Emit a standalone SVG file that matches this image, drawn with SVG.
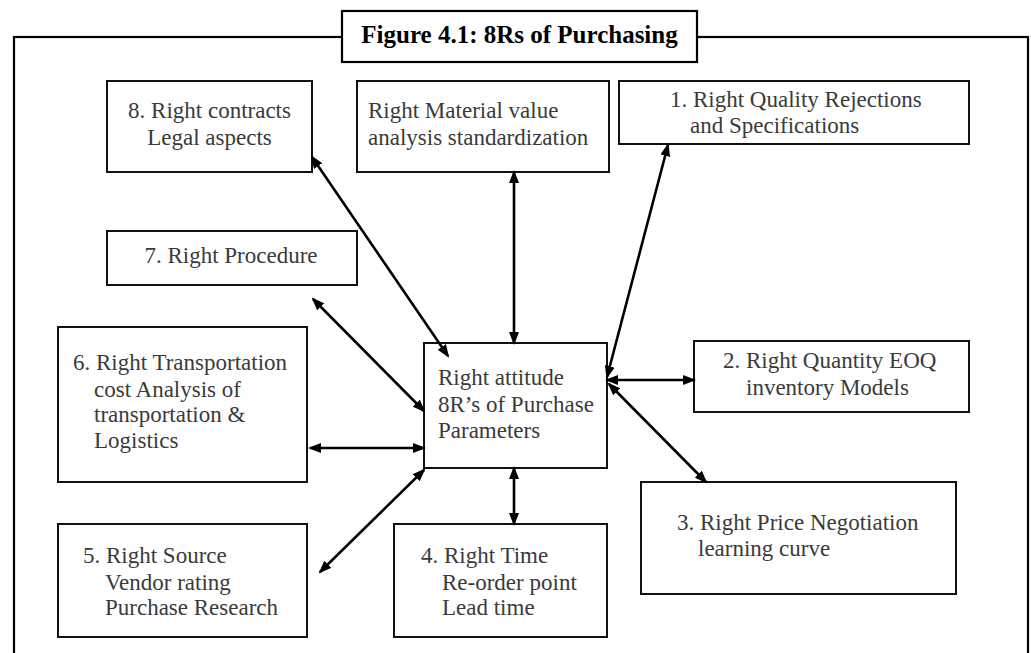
<svg xmlns="http://www.w3.org/2000/svg" width="1031" height="653" viewBox="0 0 1031 653">
<style>
.box{fill:#fff;stroke:#111;stroke-width:2}
.t{font-family:"Liberation Serif","Times New Roman",serif;font-size:23px;fill:#3a3a3a}
.ttl{font-family:"Liberation Serif","Times New Roman",serif;font-size:25px;font-weight:bold;fill:#000}
.c{stroke:#000;stroke-width:2.6;fill:none;marker-start:url(#ah);marker-end:url(#ah)}
</style>
<defs>
<marker id="ah" viewBox="0 0 13 10" refX="11" refY="5" markerWidth="13" markerHeight="10" markerUnits="userSpaceOnUse" orient="auto-start-reverse">
<path d="M0,0 L13,5 L0,10 z" fill="#000"/>
</marker>
</defs>
<rect id="frame" x="14" y="37" width="1014" height="640" fill="none" stroke="#000" stroke-width="2.2"/>
<g id="title">
<rect x="342" y="11" width="355" height="51" fill="#fff" stroke="#000" stroke-width="2.2"/>
<text class="ttl" x="519.5" y="43" text-anchor="middle">Figure 4.1: 8Rs of Purchasing</text>
</g>
<g id="n8">
<rect class="box" x="107" y="81" width="205" height="91"/>
<text class="t" x="209.5" y="118" text-anchor="middle">8. Right contracts</text>
<text class="t" x="209.5" y="145" text-anchor="middle">Legal aspects</text>
</g>
<g id="nMaterial">
<rect class="box" x="357" y="81" width="252" height="91"/>
<text class="t" x="368" y="118">Right Material value</text>
<text class="t" x="368" y="145">analysis standardization</text>
</g>
<g id="n1">
<rect class="box" x="619" y="81" width="350" height="63"/>
<text class="t" x="670" y="107">1. Right Quality Rejections</text>
<text class="t" x="690" y="133">and Specifications</text>
</g>
<g id="n7">
<rect class="box" x="107" y="231" width="250" height="54"/>
<text class="t" x="231" y="263" text-anchor="middle">7. Right Procedure</text>
</g>
<g id="n6">
<rect class="box" x="58" y="327" width="249" height="155"/>
<text class="t" x="73" y="370">6. Right Transportation</text>
<text class="t" x="94" y="397">cost Analysis of</text>
<text class="t" x="94" y="422">transportation &amp;</text>
<text class="t" x="94" y="448">Logistics</text>
</g>
<g id="center">
<rect class="box" x="424" y="343" width="183" height="125"/>
<text class="t" x="438" y="385">Right attitude</text>
<text class="t" x="438" y="412">8R’s of Purchase</text>
<text class="t" x="438" y="438">Parameters</text>
</g>
<g id="n2">
<rect class="box" x="694" y="341" width="275" height="71"/>
<text class="t" x="723" y="368">2. Right Quantity EOQ</text>
<text class="t" x="746" y="395">inventory Models</text>
</g>
<g id="n3">
<rect class="box" x="641" y="482" width="315" height="112"/>
<text class="t" x="677" y="530">3. Right Price Negotiation</text>
<text class="t" x="698" y="556">learning curve</text>
</g>
<g id="n5">
<rect class="box" x="58" y="524" width="249" height="113"/>
<text class="t" x="83" y="563">5. Right Source</text>
<text class="t" x="105" y="590">Vendor rating</text>
<text class="t" x="105" y="615">Purchase Research</text>
</g>
<g id="n4">
<rect class="box" x="394" y="524" width="213" height="113"/>
<text class="t" x="421" y="563">4. Right Time</text>
<text class="t" x="442" y="590">Re-order point</text>
<text class="t" x="442" y="615">Lead time</text>
</g>
<g id="connectors">
<line class="c" x1="514" y1="172" x2="514" y2="343"/>
<line class="c" x1="312" y1="157" x2="448" y2="356"/>
<line class="c" x1="668" y1="145" x2="607" y2="377"/>
<line class="c" x1="313" y1="299" x2="424" y2="411"/>
<line class="c" x1="310" y1="448" x2="424" y2="448"/>
<line class="c" x1="607" y1="380" x2="694" y2="380"/>
<line class="c" x1="609" y1="384" x2="706" y2="482"/>
<line class="c" x1="424" y1="470" x2="320" y2="572"/>
<line class="c" x1="514" y1="468" x2="514" y2="524"/>
</g>
</svg>
